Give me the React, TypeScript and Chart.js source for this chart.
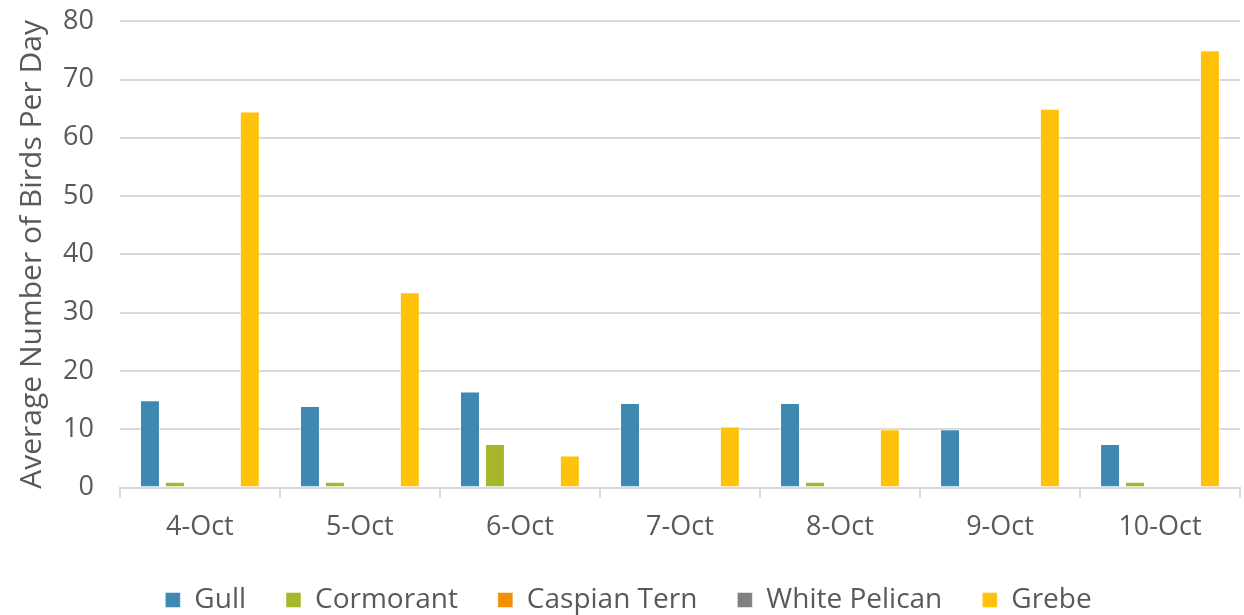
import React, { useEffect, useRef } from "react";
import { Chart, registerables } from "chart.js";

Chart.register(...registerables);

const categories = ["4-Oct", "5-Oct", "6-Oct", "7-Oct", "8-Oct", "9-Oct", "10-Oct"];
const gull = [15, 14, 16.5, 14.5, 14.5, 10, 7.5];
const cormorant = [1, 1, 7.5, 0, 1, 0, 1];
const caspianTern = [0, 0, 0, 0, 0, 0, 0];
const whitePelican = [0, 0, 0, 0, 0, 0, 0];
const grebe = [64.5, 33.5, 5.5, 10.5, 10, 65, 75];
const yTicks = [0, 10, 20, 30, 40, 50, 60, 70, 80];

const FONT = "'Open Sans', sans-serif";
const TEXT = "#595959";
const GRID = "#d9d9d9";

export default function App() {
  const ref = useRef<HTMLCanvasElement | null>(null);
  useEffect(() => {
    if (!ref.current) return;
    const mk = (label: string, data: number[], color: string) => ({
      label,
      data,
      backgroundColor: color,
      borderColor: "rgba(255,255,255,0.45)",
      borderWidth: 1,
      categoryPercentage: 0.78,
      barPercentage: 0.8,
    });
    const chart = new Chart(ref.current, {
      type: "bar",
      data: {
        labels: categories,
        datasets: [
          mk("Gull", gull, "#3F88B2"),
          mk("Cormorant", cormorant, "#A6B829"),
          mk("Caspian Tern", caspianTern, "#F28F00"),
          mk("White Pelican", whitePelican, "#808080"),
          mk("Grebe", grebe, "#FFC20A"),
        ],
      },
      options: {
        animation: false,
        responsive: false,
        maintainAspectRatio: false,
        layout: { padding: { top: 0, right: 4, left: 17, bottom: -9 } },
        plugins: {
          tooltip: { enabled: false },
          legend: {
            position: "bottom",
            labels: {
              color: TEXT,
              font: { family: FONT, size: 28 },
              boxWidth: 15,
              boxHeight: 15,
              padding: 40,
            },
          },
        },
        scales: {
          x: {
            afterFit: (axis: any) => {
              axis.height -= 12;
            },
            grid: {
              display: true,
              drawOnChartArea: false,
              drawTicks: true,
              tickLength: 10,
              color: GRID,
              lineWidth: 2,
              offset: true,
            },
            border: { display: true, color: GRID, width: 2 },
            ticks: { color: TEXT, font: { family: FONT, size: 27 }, padding: 14 },
          },
          y: {
            min: 0,
            max: 80,
            afterBuildTicks: (axis: any) => {
              axis.ticks = yTicks.map((v) => ({ value: v }));
            },
            afterFit: (axis: any) => {
              axis.width += 11;
            },
            grid: {
              color: GRID,
              lineWidth: 2,
              drawTicks: true,
              tickLength: 21,
              tickColor: "rgba(0,0,0,0)",
            },
            border: { display: false },
            ticks: { color: TEXT, font: { family: FONT, size: 27 }, padding: 5 },
            title: {
              display: true,
              text: "Average Number of Birds Per Day",
              color: TEXT,
              font: { family: FONT, size: 30, lineHeight: 1 },
              padding: { top: 0, bottom: 0 },
            },
          },
        },
      },
    });
    return () => chart.destroy();
  }, []);
  return (
    <div style={{ position: "absolute", left: 0, top: 0, width: 1244, height: 615, background: "#fff" }}>
      <canvas ref={ref} width={1244} height={615} style={{ width: 1244, height: 615 }} />
    </div>
  );
}
